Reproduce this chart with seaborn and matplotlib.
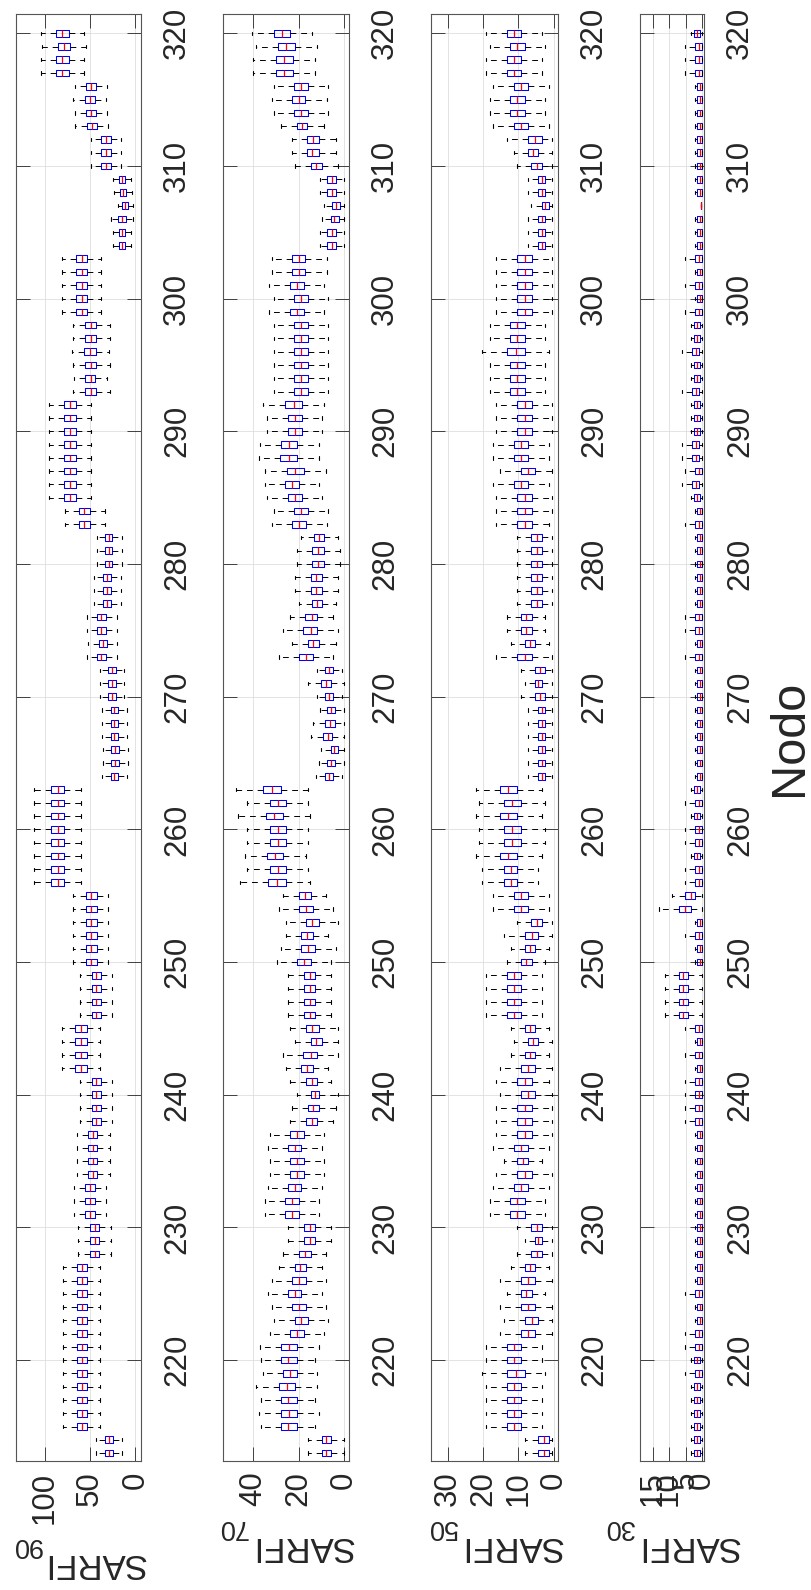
import numpy as np
import pandas as pd
import matplotlib
matplotlib.use("Agg")
import matplotlib.pyplot as plt
import seaborn as sns

# ---------------- data (node 320 down to 213) ----------------
nodes = list(range(320, 212, -1))
ytick_vals = [220, 230, 240, 250, 260, 270, 280, 290, 300, 310, 320]

# SARFI90
p90_lo = [57, 55, 57, 57,
          31.5, 33, 31.5, 30.5,
          15.7, 15.7, 15.7,
          4.6, 3.6, 2.5, 2.5, 4.6, 4.6,
          37.6, 37.6, 37.6, 37.6, 37.6,
          28.4, 28.4, 29.4, 28.4, 31.5, 28.4,
          48.7, 48.7, 48.7, 48.7, 48.7, 48.7, 48.7, 48.7,
          34, 34,
          14.7, 14.7, 14.7, 16.2, 16.2, 16.2,
          20.8, 20.8, 20.3, 20.8,
          12.2, 12.2, 12.2, 9.1, 9.1, 9.1, 8.1, 8.1, 9.1,
          59.9, 59.9, 59.9, 59.9, 59.9, 59.9, 59.9, 59.9,
          30.5, 30.5, 30.5, 30.5, 30.5, 30.5,
          25.9, 25.9, 25.9, 25.9,
          38.6, 38.6, 38.6, 38.6, 25.9, 25.9, 25.9, 25.9,
          28.4, 28.4, 28.4, 28.4, 32.5, 32.5, 32.5,
          27.4, 27.4, 27.4, 38.6, 38.6, 38.6, 38.6, 38.6, 38.6,
          38.6, 38.6, 38.6, 38.6, 38.6, 38.6, 38.6,
          14.7, 14.7]
p90_q1 = [74, 72, 74, 74,
          43.7, 44.7, 43.7, 42.6,
          27.4, 27.4, 27.4,
          11.2, 10.2, 7.6, 10.7, 11.2, 11.2,
          53.3, 53.3, 53.3, 53.3, 53.3,
          43.1, 43.1, 43.6, 43.1, 44.2, 43.1,
          65.5, 65.5, 65.5, 65.5, 65.5, 65.5, 65.5, 65.5,
          50.3, 50.3,
          25.4, 25.4, 25.4, 26.9, 26.9, 26.9,
          33, 33, 31.5, 33,
          21.3, 21.3, 21.3, 19.3, 19.3, 19.3, 18.3, 18.3, 19.3,
          78.7, 78.7, 78.7, 78.7, 78.7, 78.7, 78.7, 78.7,
          42.6, 42.6, 42.6, 42.6, 42.6, 42.6,
          38.1, 38.1, 38.1, 38.1,
          53.8, 53.8, 53.8, 53.8, 38.1, 38.1, 38.1, 38.1,
          42.1, 42.1, 42.1, 42.1, 45.2, 45.2, 45.2,
          40.1, 40.1, 40.1, 53.3, 53.3, 53.3, 53.3, 53.3, 53.3,
          53.3, 53.3, 53.3, 53.3, 53.3, 53.3, 53.3,
          24.9, 24.9]
p90_med = [81, 79, 81, 81,
           49.2, 50.3, 49.2, 48.2,
           32.5, 32.5, 32.5,
           14.7, 13.7, 11.2, 14.7, 14.7, 14.7,
           59.4, 59.4, 59.4, 59.4, 59.4,
           49.2, 49.2, 49.7, 49.2, 49.2, 49.2,
           72.1, 72.1, 72.1, 72.1, 72.1, 72.1, 72.1, 72.1,
           56.3, 56.3,
           29.4, 29.4, 29.4, 31.5, 31.5, 31.5,
           37.6, 37.6, 35.5, 37.6,
           25.9, 25.9, 25.9, 23.4, 23.4, 23.4, 22.3, 22.3, 23.4,
           85.8, 85.8, 85.8, 85.8, 85.8, 85.8, 85.8, 85.8,
           48.7, 48.7, 48.7, 48.7, 48.7, 48.7,
           43.1, 43.1, 43.1, 43.1,
           60.4, 60.4, 60.4, 60.4, 43.1, 43.1, 43.1, 43.1,
           47.2, 47.2, 47.2, 47.2, 50.3, 50.3, 50.3,
           45.2, 45.2, 45.2, 59.4, 59.4, 59.4, 59.4, 59.4, 59.4,
           59.4, 59.4, 59.4, 59.4, 59.4, 59.4, 59.4,
           29.4, 29.4]
p90_q3 = [88, 86, 88, 88,
          54.8, 55.8, 54.8, 53.8,
          37.6, 37.6, 37.6,
          18.3, 17.3, 14.7, 18.8, 18.3, 18.3,
          65.5, 65.5, 65.5, 65.5, 65.5,
          55.3, 55.3, 56.3, 55.3, 55.3, 55.3,
          78.7, 78.7, 78.7, 78.7, 78.7, 78.7, 78.7, 78.7,
          62.4, 62.4,
          33.5, 33.5, 33.5, 35.5, 35.5, 35.5,
          42.1, 42.1, 40.1, 42.1,
          29.9, 29.9, 29.9, 27.4, 27.4, 27.4, 26.4, 26.4, 27.4,
          92.9, 92.9, 92.9, 92.9, 92.9, 92.9, 92.9, 92.9,
          54.8, 54.8, 54.8, 54.8, 54.8, 54.8,
          48.2, 48.2, 48.2, 48.2,
          66.5, 66.5, 66.5, 66.5, 48.2, 48.2, 48.2, 48.2,
          52.3, 52.3, 52.3, 52.3, 55.3, 55.3, 55.3,
          50.3, 50.3, 50.3, 65, 65, 65, 65, 65, 65,
          65, 65, 65, 65, 65, 65, 65,
          33.5, 33.5]
p90_hi = [105, 103, 105, 105,
          67, 68.5, 67, 66.5,
          48.7, 48.7, 48.7,
          24.9, 23.9, 19.3, 26.4, 24.9, 24.9,
          81.2, 81.2, 81.2, 81.2, 81.2,
          69, 69, 70, 69, 67.5, 69,
          95.9, 95.9, 95.9, 95.9, 95.9, 95.9, 95.9, 95.9,
          77.7, 77.7,
          42.6, 42.6, 42.6, 46.2, 46.2, 46.2,
          53.8, 53.8, 52.3, 53.8,
          38.6, 38.6, 38.6, 36.5, 36.5, 36.5, 35.5, 35.5, 36.5,
          111.7, 111.7, 111.7, 111.7, 111.7, 111.7, 111.7, 111.7,
          69, 69, 69, 69, 69, 69,
          60.9, 60.9, 60.9, 60.9,
          81.7, 81.7, 81.7, 81.7, 60.9, 60.9, 60.9, 60.9,
          65, 65, 65, 65, 68, 68, 68,
          63, 63, 63, 80.2, 80.2, 80.2, 80.2, 80.2, 80.2,
          80.2, 80.2, 80.2, 80.2, 80.2, 80.2, 80.2,
          43.1, 43.1]

# SARFI70
p70_lo = [13.9, 11.9, 12.7, 12.7,
          6.9, 7.7, 6.9, 8.9,
          3.6, 3.6, 2.8,
          0.2, 0.2, 0.2, 0.2, 0.2, 0.2,
          7.7, 7.7, 8.7, 6.9, 8.7,
          6.9, 6.9, 6.9, 6.9, 6.9, 6.9,
          8.9, 9.9, 9.9, 10.9, 10.9, 7.9, 10.9, 9.9,
          6.9, 7.7,
          2.8, 1.8, 1.8, 2.8, 2.8, 3.6,
          4.8, 2.8, 3.6, 4.8,
          0.8, 0, 0.8, 0.2, 0.2, 0.2, 0.2, 0.2, 0.8,
          16, 16, 14.9, 16, 16, 16.8, 16, 14.9,
          7.9, 4.8, 2.8, 6.9, 3.6, 5.9,
          5.9, 5.9, 5.9, 5.9,
          2.8, 2.8, 2.8, 6.9, 5.9, 2.8, 3.6, 4.8,
          8.9, 9.9, 8.9, 8.9, 9.9, 10.9, 10.9,
          5.9, 5.9, 7.9, 9.9, 7.9, 9.9, 7.9, 6.9, 8.9,
          10.9, 12.7, 11.9, 11.9, 12.7, 10.9, 12.7,
          0, 0]
p70_q1 = [23.8, 21.8, 22.6, 22.6,
          15.8, 17, 15.8, 16.2,
          10.9, 10.9, 9.9,
          3.6, 3.6, 1.8, 2.4, 3.6, 3.6,
          17, 17, 17.8, 15.8, 17.8,
          15.8, 15.8, 15.8, 15.8, 15.8, 15.8,
          18.6, 18.6, 18.6, 20.8, 20.8, 17.8, 19.8, 18.6,
          15.8, 16.8,
          8.9, 8.9, 8.9, 9.9, 9.9, 9.9,
          11.9, 11.7, 10.9, 13.7,
          4.8, 5.9, 4.8, 4, 4, 5.1, 2.8, 4, 4.8,
          27.7, 25.7, 26.7, 25.7, 25.7, 26.7, 25.7, 25.7,
          14.7, 13.7, 10.9, 13.7, 12.7, 14.7,
          12.7, 12.7, 12.7, 12.7,
          10.9, 9.9, 11.7, 13.7, 11.7, 10.9, 10.9, 11.7,
          17.8, 18.8, 17.8, 17.8, 18.8, 19.8, 19.8,
          12.7, 12.7, 14.7, 16.8, 16.8, 18.8, 16.8, 15.8, 17.8,
          20.8, 20.8, 20.8, 21.8, 20.8, 20.8, 20.8,
          5.9, 5.9]
p70_med = [27.5, 25.5, 26.3, 26.3,
           19, 20, 19, 18.4,
           13.5, 13.9, 12.3,
           5.5, 5.5, 3.6, 4.2, 5.5, 5.5,
           20, 20, 20.8, 19, 20.8,
           19, 19, 19, 19, 19, 19,
           22.2, 21.8, 21.8, 24.4, 24.4, 21.4, 22.8, 21.8,
           19, 19.8,
           11.1, 11.5, 11.5, 12.3, 12.3, 11.9,
           14.3, 14.7, 13.5, 16.8,
           6.7, 8.1, 6.7, 5.9, 6.3, 7.1, 4.4, 5.9, 6.7,
           31.7, 29.3, 30.7, 29.3, 29.3, 30.3, 29.3, 29.7,
           17.4, 16.8, 13.9, 16.4, 16, 17.8,
           15.2, 15.2, 15.2, 15.2,
           13.9, 12.3, 14.7, 16.4, 14.3, 12.9, 13.5, 14.3,
           20.8, 21.8, 20.8, 20.8, 21.8, 22.8, 22.8,
           15.2, 15.2, 17.4, 19.4, 19.8, 21.8, 19.8, 18.8, 20.8,
           24.4, 24.8, 23.8, 25.3, 24.8, 24.4, 24.8,
           7.9, 7.9]
p70_q3 = [30.7, 29.1, 29.9, 29.9,
          22, 23, 22, 20.6,
          16.4, 16.4, 14.7,
          7.3, 7.3, 5.5, 5.9, 7.3, 7.3,
          23, 23, 23.8, 22, 23.8,
          22, 22, 22, 22, 22, 22,
          25.9, 24.8, 24.8, 27.7, 28.1, 25.1, 25.9, 24.8,
          22, 22.8,
          13.1, 13.9, 13.9, 14.7, 14.7, 13.9,
          17, 18, 16, 19.8,
          8.3, 10.1, 8.3, 7.7, 8.3, 9.1, 5.9, 7.7, 8.3,
          35.8, 32.7, 34.5, 32.7, 32.7, 34.1, 32.7, 33.7,
          19.8, 19.8, 16.8, 18.8, 18.8, 20.8,
          17.8, 17.8, 17.8, 17.8,
          16.8, 14.7, 18, 18.8, 16.8, 14.7, 16, 16.8,
          23.8, 24.8, 23.8, 23.8, 24.8, 25.9, 25.9,
          17.8, 17.8, 19.8, 21.8, 22.8, 24.8, 22.8, 21.8, 23.8,
          27.9, 27.9, 26.9, 28.7, 27.9, 27.9, 27.9,
          9.9, 9.9]
p70_hi = [40.6, 38.8, 40, 40,
          30.7, 31.9, 30.7, 27.7,
          22.8, 22.8, 21.8,
          10.5, 10.5, 8.9, 9.5, 10.5, 10.5,
          31.9, 31.9, 32.9, 30.7, 32.9,
          30.7, 30.7, 30.7, 30.7, 30.7, 30.7,
          35.8, 33.9, 33.9, 37.2, 37.6, 34.7, 34.7, 33.9,
          30.7, 31.9,
          18.8, 20.6, 20.6, 21.8, 21.8, 19.8,
          23.8, 26.7, 22.8, 28.7,
          11.9, 16, 11.9, 10.7, 13.7, 14.7, 10.3, 10.9, 12.3,
          47.7, 42.6, 46.7, 42.6, 42.6, 43.8, 42.6, 45.7,
          26.7, 28.7, 25.7, 25.7, 27.7, 29.5,
          24.6, 24.6, 24.6, 24.6,
          23.8, 21.8, 26.7, 25.7, 23.8, 20.8, 22.8, 23.8,
          32.7, 33.7, 32.7, 32.7, 33.7, 34.7, 34.7,
          24.6, 24.6, 26.7, 28.7, 31.7, 33.7, 31.7, 30.7, 32.7,
          37.2, 36.8, 35.8, 38.8, 36.8, 37.6, 36.8,
          16, 16]

# SARFI50
p50_lo = [3.4, 2.4, 3.4, 3.4,
          1.4, 2.4, 2.4, 1.4,
          0.5, 0.5, 0.5,
          0.5, 0.5, 0.5, 0.5, 0.5, 0.5,
          0.5, 0.5, 0.5, 0.5, 0.5,
          2.4, 2.4, 1.4, 2.4, 2.4, 2.4,
          0.5, 0.5, 0.5, 1.4, 1.4, 0.5, 1.4, 0.5,
          0.5, 1.4,
          0.5, 0.5, 0.5, 0.5, 0.5, 0.5,
          2.4, 2.4, 1.4, 0.5,
          0.5, 0.5, 0.5, 0.5, 0.5, 0.5, 0.5, 0.5, 0.5,
          3.4, 2.4, 3.4, 2.4, 2.4, 3.4, 4.3, 4.3,
          1.4, 1.4, 0.5, 0.5, 1.4, 2.4,
          3.4, 3.4, 3.4, 3.4,
          1.4, 0.5, 1.4, 0.5, 1.4, 0.5, 0.5, 0.5,
          0.5, 1.4, 3.3, 0.5, 1.4, 2.4, 2.4,
          0.5, 0.5, 0.5, 1.4, 0.5, 2.4, 0.5, 0.5, 0.5,
          3.4, 3.4, 2.4, 3.4, 3.4, 3.4, 3.4,
          0.5, 0.5]
p50_q1 = [9.1, 8.2, 9.1, 9.1,
          7.2, 8.2, 8.2, 7.2,
          3.3, 4.3, 3.3,
          2.4, 2.4, 1.4, 2.4, 2.4, 2.4,
          6.2, 6.2, 6.2, 6.2, 6.2,
          8.2, 8.2, 8.2, 8.2, 8.2, 8.2,
          6.2, 6.2, 6.2, 7.2, 7.2, 5.2, 7.2, 6.2,
          6.2, 6.2,
          3.3, 3.3, 3.3, 3.3, 3.3, 3.3,
          6.2, 6.2, 5.2, 6.2,
          2.4, 3.3, 2.4, 2.4, 2.4, 2.4, 2.4, 2.4, 2.4,
          10.3, 9.2, 10.3, 9.2, 9.2, 10.3, 10.3, 10.3,
          7.3, 7.3, 3.3, 4.3, 5.2, 6.2,
          9.1, 9.1, 9.1, 9.1,
          5.2, 4.3, 5.2, 5.2, 6.2, 5.2, 6.2, 6.2,
          6.2, 7.2, 7.3, 6.2, 7.2, 8.2, 8.2,
          3.3, 3.3, 3.3, 5.2, 5.2, 6.2, 5.2, 4.3, 5.2,
          9.1, 9.1, 8.2, 9.1, 9.1, 9.1, 9.1,
          1.4, 1.4]
p50_med = [11.2, 10.3, 11.2, 11.2,
           9.2, 10.3, 10.3, 9.2,
           5.2, 5.7, 4.8,
           3.3, 3.3, 2.4, 3.3, 3.3, 3.3,
           8.2, 8.2, 8.2, 8.2, 8.2,
           10.3, 10.3, 10.6, 10.3, 10.3, 10.3,
           8.2, 8.2, 8.2, 9.2, 9.2, 7.3, 9.2, 8.2,
           8.2, 8.2,
           4.8, 4.8, 4.8, 4.8, 4.8, 4.8,
           7.7, 7.7, 6.8, 8.2,
           3.9, 4.3, 3.9, 3.3, 3.3, 3.3, 3.3, 3.3, 3.3,
           13, 11.7, 13, 11.7, 11.7, 13, 12.2, 12.2,
           9.2, 9.2, 4.8, 6.2, 6.8, 7.7,
           11.2, 11.2, 11.2, 11.2,
           6.8, 5.7, 6.8, 7.3, 8.2, 7.3, 8.2, 8.2,
           8.2, 9.2, 8.7, 8.2, 9.2, 10.3, 10.3,
           4.8, 4.3, 4.8, 6.8, 7.3, 7.7, 7.3, 6.2, 7.3,
           11.2, 11.2, 10.6, 11.2, 11.2, 11.2, 11.2,
           2.8, 2.8]
p50_q3 = [13.2, 12.3, 13.2, 13.2,
          11.3, 12.3, 12.3, 11.3,
          7.2, 7.3, 6.4,
          4.3, 4.3, 3.3, 4.3, 4.3, 4.3,
          10.3, 10.3, 10.3, 10.3, 10.3,
          12.3, 12.3, 13.2, 12.3, 12.3, 12.3,
          10.3, 10.3, 10.3, 11.3, 11.3, 9.2, 11.3, 10.3,
          10.3, 10.3,
          6.4, 6.4, 6.4, 6.4, 6.4, 6.4,
          9.2, 9.2, 8.2, 10.3,
          5.4, 5.4, 5.4, 4.3, 4.3, 4.3, 4.3, 4.3, 4.3,
          15.2, 14.1, 15.2, 14.1, 14.1, 15.2, 14.1, 14.1,
          11.2, 11.2, 6.4, 8.2, 8.2, 9.2,
          13.2, 13.2, 13.2, 13.2,
          8.2, 7.3, 8.2, 9.2, 10.3, 9.2, 10.3, 10.3,
          10.3, 11.3, 10.3, 10.3, 11.3, 12.3, 12.3,
          6.4, 5.4, 6.4, 8.2, 9.2, 9.2, 9.2, 8.2, 9.2,
          13.2, 13.2, 13.2, 13.2, 13.2, 13.2, 13.2,
          4.3, 4.3]
p50_hi = [19.2, 18.1, 19.2, 19.2,
          17.2, 18.1, 18.1, 17.2,
          13.2, 11.2, 10.3,
          7.2, 7.2, 6.4, 7.2, 7.2, 7.2,
          16.2, 16.2, 16.2, 16.2, 16.2,
          18.1, 18.1, 20.2, 18.1, 18.1, 18.1,
          16.2, 16.2, 16.2, 17.2, 17.2, 15.2, 17.2, 16.2,
          16.2, 16.2,
          10.3, 10.3, 10.3, 10.3, 10.3, 10.3,
          13.2, 13.2, 12.2, 16.2,
          9.2, 8.2, 9.2, 7.3, 7.3, 7.3, 7.3, 7.3, 7.3,
          22.1, 21.1, 22.1, 21.1, 21.1, 22.1, 20.2, 20.2,
          17.2, 17.2, 10.3, 14.1, 12.2, 13.2,
          19.2, 19.2, 19.2, 19.2,
          12.2, 11.2, 12.2, 15.2, 16.2, 15.2, 16.2, 16.2,
          16.2, 17.2, 14.1, 16.2, 17.2, 18.1, 18.1,
          10.3, 8.2, 10.3, 12.2, 15.2, 13.2, 15.2, 14.1, 15.2,
          19.2, 19.2, 20.2, 19.2, 19.2, 19.2, 19.2,
          8.2, 8.2]

# SARFI30
p30_lo = [0, 0, 0, 0,
          0, 0, 0, 0,
          0, 0, 0,
          0, 0, 0.3, 0, 0, 0,
          0, 0, 0, 0, 0,
          0, 0, 0, 0, 0, 0,
          0, 0, 0, 0, 0, 0, 0, 0,
          0, 0,
          0, 0, 0, 0, 0, 0,
          0, 0, 0, 0,
          0, 0, 0, 0, 0, 0, 0, 0, 0,
          0, 0, 0, 0, 0, 0, 0, 0,
          0, 0, 0, 0, 0, 0,
          0, 0, 0, 0,
          0, 0, 0, 0, 0, 0, 0, 0,
          0, 0, 0, 0, 0, 0, 0,
          0, 0, 0, 0, 0, 0, 0, 0, 0,
          0, 0, 0, 0, 0, 0, 0,
          0, 0]
p30_q1 = [0.6, 0, 0, 0,
          0, 0, 0, 0,
          0, 0, 0,
          0, 0, 0.3, 0, 0, 0,
          0, 0, 0, 0, 0,
          0.6, 0.6, 1.0, 0.6, 0.6, 1.0,
          0.6, 0.6, 0.6, 1.0, 1.0, 0, 1.0, 0.6,
          0, 0,
          0, 0, 0, 0, 0, 0,
          0, 0, 0, 0,
          0, 0, 0, 0, 0, 0, 0, 0, 0,
          0.6, 0, 0.6, 0, 0, 0.6, 0, 0,
          2.2, 3.3, 0, 0, 0, 0,
          4.3, 4.3, 4.3, 4.3,
          0, 0, 0, 0, 0, 0, 0, 0,
          0, 0, 0, 0, 0, 0, 0,
          0, 0, 0, 0, 0, 0, 0, 0, 0,
          0, 0.6, 0, 0.6, 0.6, 0.6, 0.6,
          0.6, 0.6]
p30_med = [1.6, 1.0, 1.0, 1.0,
           0.8, 0.8, 0.8, 0.8,
           0.8, 0.8, 0.8,
           0.8, 0.8, 0.3, 0.8, 0.8, 0.8,
           1.0, 0.8, 1.0, 0.8, 1.0,
           1.6, 1.6, 2.0, 1.6, 1.6, 2.0,
           1.6, 1.6, 1.6, 2.0, 2.0, 1.0, 2.0, 1.6,
           0.8, 1.0,
           0.8, 0.8, 0.8, 0.8, 0.8, 0.8,
           1.0, 1.0, 0.8, 1.0,
           0.8, 0.8, 0.8, 0.8, 0.8, 0.8, 0.8, 0.8, 0.8,
           1.6, 1.0, 1.6, 1.0, 1.0, 1.6, 1.0, 1.0,
           3.5, 5.1, 0.8, 1.0, 0.8, 0.8,
           5.7, 5.7, 5.7, 5.7,
           1.0, 0.8, 1.0, 0.8, 1.0, 1.0, 1.0, 1.0,
           0.8, 0.8, 0.8, 0.8, 0.8, 0.8, 0.8,
           0.8, 0.8, 0.8, 0.8, 0.8, 1.0, 0.8, 0.8, 1.0,
           1.0, 1.6, 1.0, 1.6, 1.6, 1.6, 1.6,
           1.6, 1.6]
p30_q3 = [2.6, 2.2, 2.2, 2.2,
          1.6, 1.6, 1.6, 1.6,
          1.6, 1.6, 1.6,
          1.6, 1.6, 0.3, 1.6, 1.6, 1.6,
          2.2, 1.6, 2.2, 1.6, 2.2,
          2.6, 2.6, 3.0, 2.6, 2.6, 3.0,
          2.6, 2.6, 2.6, 3.0, 3.0, 2.2, 3.0, 2.6,
          1.6, 2.2,
          1.6, 1.6, 1.6, 1.6, 1.6, 1.6,
          2.2, 2.2, 1.6, 2.2,
          1.6, 1.6, 1.6, 1.6, 1.6, 1.6, 1.6, 1.6, 1.6,
          2.6, 2.2, 2.6, 2.2, 2.2, 2.6, 2.2, 2.2,
          5.1, 7.1, 1.6, 2.2, 1.6, 1.6,
          7.1, 7.1, 7.1, 7.1,
          2.2, 1.6, 2.2, 1.6, 2.2, 2.2, 2.2, 2.2,
          1.6, 1.6, 1.6, 1.6, 1.6, 1.6, 1.6,
          1.6, 1.6, 1.6, 1.6, 1.6, 2.2, 1.6, 1.6, 2.2,
          2.2, 2.6, 2.2, 2.6, 2.6, 2.6, 2.6,
          2.6, 2.6]
p30_hi = [3.3, 5.1, 5.1, 5.1,
          2.3, 2.3, 2.3, 2.3,
          2.3, 2.3, 2.3,
          2.3, 2.3, 0.3, 2.3, 2.3, 2.3,
          5.1, 2.3, 5.1, 2.3, 5.1,
          3.3, 3.3, 6.1, 3.3, 3.3, 6.1,
          3.3, 3.3, 3.3, 6.1, 6.1, 5.1, 6.1, 3.3,
          2.3, 5.1,
          2.3, 2.3, 2.3, 2.3, 2.3, 2.3,
          5.1, 5.1, 2.3, 5.1,
          2.3, 2.3, 2.3, 2.3, 2.3, 2.3, 2.3, 2.3, 2.3,
          3.3, 5.1, 3.3, 5.1, 5.1, 3.3, 5.1, 5.1,
          9.2, 13, 2.3, 5.1, 2.3, 2.3,
          11.2, 11.2, 11.2, 11.2,
          5.1, 2.3, 5.1, 2.3, 5.1, 5.1, 5.1, 5.1,
          2.3, 2.3, 2.3, 2.3, 2.3, 2.3, 2.3,
          2.3, 2.3, 2.3, 2.3, 2.3, 5.1, 2.3, 2.3, 5.1,
          5.1, 3.3, 5.1, 3.3, 3.3, 3.3, 3.3,
          3.3, 3.3]

label_main = ["SARFI", "SARFI", "SARFI", "SARFI"]
label_sub = ["90", "70", "50", "30"]
xticks = [[0, 50, 100], [0, 20, 40], [0, 10, 20, 30], [0, 5, 10, 15]]

# ---------------- style ----------------
sns.set_style("white")
plt.rcParams["font.family"] = ["Liberation Sans", "DejaVu Sans"]
TXT = "#262626"

W, H = 811, 1590
fig = plt.figure(figsize=(W / 100, H / 100), dpi=100)
fig.patch.set_facecolor("white")

# axes rectangles in pixel units (left, right); shared top/bottom
px_lr = [(16.3, 141.3), (223.3, 349.3), (430.7, 558.3), (639.7, 704.3)]
top_px, bot_px = 14, 1461
xlims = [(131.8, -6.6), (53.2, -2.33), (34.8, -1.33), (18.9, -0.64)]
# label placement (pixel): main text centre x, its cap-top y; subscript centre x, its top y
lab_pos = [(94.5, 1580, 27, 1558), (302.2, 1563, 233, 1540),
           (511, 1563, 442, 1540), (688, 1563, 618.5, 1540)]

series = [
    (p90_lo, p90_q1, p90_med, p90_q3, p90_hi),
    (p70_lo, p70_q1, p70_med, p70_q3, p70_hi),
    (p50_lo, p50_q1, p50_med, p50_q3, p50_hi),
    (p30_lo, p30_q1, p30_med, p30_q3, p30_hi),
]

for i, (stats, xt, xl, (l, r)) in enumerate(zip(series, xticks, xlims, px_lr)):
    for s in stats:
        assert len(s) == len(nodes), (i, len(s))
    ax = fig.add_axes([l / W, (H - bot_px) / H, (r - l) / W, (bot_px - top_px) / H])
    vals = np.column_stack(stats).ravel()
    df = pd.DataFrame({"node": np.repeat(nodes, 5), "value": vals})
    sns.boxplot(data=df, x="value", y="node", orient="h", native_scale=True,
                whis=(0, 100), width=0.5, fill=False, showfliers=False, ax=ax,
                boxprops=dict(color="#0000ff", linewidth=0.75),
                medianprops=dict(color="#ff0000", linewidth=0.9),
                whiskerprops=dict(color="black", linewidth=0.7, linestyle=(0, (6, 5))),
                capprops=dict(color="black", linewidth=0.8))
    ax.set_xlim(*xl)
    ax.set_ylim(212.4, 321.45)
    ax.set_xticks(xt, labels=[str(t) for t in xt], rotation=90)
    ax.set_yticks(ytick_vals, labels=[str(v) for v in ytick_vals], rotation=90, va="center")
    ax.tick_params(axis="x", direction="in", length=10, width=0.6, colors=TXT,
                   bottom=True, top=True, labelsize=22.5, pad=7.5)
    ax.tick_params(axis="y", direction="in", length=10, width=0.6, colors=TXT,
                   left=True, right=True, labelleft=False, labelright=True,
                   labelsize=22.5, pad=15)
    ax.grid(True, color="#dedede", linewidth=0.6)
    ax.set_axisbelow(True)
    for sp in ax.spines.values():
        sp.set_visible(True)
        sp.set_color("#555555")
        sp.set_linewidth(0.8)
    ax.set_xlabel("")
    ax.set_ylabel("")

    # axis title "SARFI" with subscript, upside down as in the reference
    mx, my, sx, sy = lab_pos[i]
    fig.text(mx / W, 1 - my / H, label_main[i], rotation=180, ha="center", va="bottom",
             fontsize=25, color=TXT)
    fig.text(sx / W, 1 - sy / H, label_sub[i], rotation=180, ha="center", va="bottom",
             fontsize=19.5, color=TXT)

fig.text(789 / W, 1 - 737.5 / H, "Nodo", rotation=90, ha="center", va="center",
         fontsize=35, color=TXT)

fig.savefig("out.png", dpi=100, facecolor="white")
